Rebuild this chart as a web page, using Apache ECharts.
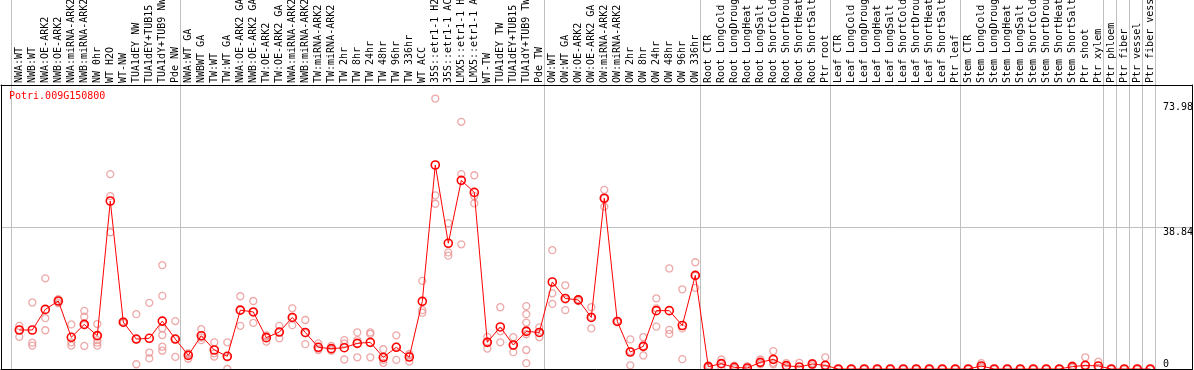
<!DOCTYPE html>
<html>
<head>
<meta charset="utf-8">
<script src="https://cdn.jsdelivr.net/npm/echarts@6/dist/echarts.min.js"></script>
<style>
html,body{margin:0;padding:0;background:#fff;}
#chart{width:1194px;height:370px;}
</style>
</head>
<body>
<div id="chart"></div>
<script>
const geneName = 'Potri.009G150800';

const categories = [
  'NWA:WT','NWB:WT','NWA:OE-ARK2','NWB:OE-ARK2','NWA:miRNA-ARK2','NWB:miRNA-ARK2','NW 0hr','WT H2O','WT-NW','TUA1dEY NW','TUA1dEY+TUB15 NW','TUA1dY+TUB9 NW','Pde NW',
  'NWA:WT GA','NWBWT GA','TW:WT','TW:WT GA','NWA:OE-ARK2 GA','NWB:OE-ARK2 GA','TW:OE-ARK2','TW:OE-ARK2 GA','NWA:miRNA-ARK2 GA','NWB:miRNA-ARK2 GA','TW:miRNA-ARK2','TW:miRNA-ARK2 GA',
  'TW 2hr','TW 8hr','TW 24hr','TW 48hr','TW 96hr','TW 336hr','WT ACC','35S::etr1-1 H2O','35S::etr1-1 ACC','LMX5::etr1-1 H2O','LMX5::etr1-1 ACC','WT-TW','TUA1dEY TW','TUA1dEY+TUB15 TW','TUA1dY+TUB9 TW','Pde TW',
  'OW:WT','OW:WT GA','OW:OE-ARK2','OW:OE-ARK2 GA','OW:miRNA-ARK2','OW:miRNA-ARK2 GA','OW 2hr','OW 8hr','OW 24hr','OW 48hr','OW 96hr','OW 336hr',
  'Root CTR','Root LongCold','Root LongDrought','Root LongHeat','Root LongSalt','Root ShortCold','Root ShortDrought','Root ShortHeat','Root ShortSalt','Ptr root',
  'Leaf CTR','Leaf LongCold','Leaf LongDrought','Leaf LongHeat','Leaf LongSalt','Leaf ShortCold','Leaf ShortDrought','Leaf ShortHeat','Leaf ShortSalt','Ptr leaf',
  'Stem CTR','Stem LongCold','Stem LongDrought','Stem LongHeat','Stem LongSalt','Stem ShortCold','Stem ShortDrought','Stem ShortHeat','Stem ShortSalt','Ptr shoot','Ptr xylem',
  'Ptr phloem','Ptr fiber','Ptr vessel','Ptr fiber vessel'
];

// index of the first category of each group (group separators)
const groupStarts = [0, 13, 41, 53, 63, 73, 84, 85, 86, 87];

const meanValues = [
  10.67,10.67,16.3,18.6,8.67,12.2,9.12,45.95,12.8,8.2,8.4,13.1,8.2,
  3.74,9.1,5.2,3.47,16.1,15.6,8.57,10.1,14.1,10.0,5.93,5.56,5.83,7.02,7.29,3.19,5.93,3.28,18.5,55.8,34.4,51.6,48.3,7.29,11.5,6.56,10.3,10.0,
  23.8,19.3,18.9,14.1,46.7,13.0,4.65,6.2,15.96,15.96,11.9,25.6,
  0.64,1.46,0.46,0.27,1.82,2.64,0.91,0.55,1.37,1.0,
  0,0,0,0,0,0,0,0,0,0,
  0,0.82,0,0,0,0,0,0,0.64,1.0,0.82,
  0,0,0,0
];

const replicateValues = [
  [11.8,10.7,8.8],[18.2,7.2,6.4],[24.8,13.9,10.6],[19.1,18.0,18.6],[12.2,7.3,6.4],[15.9,14.3,12.0,6.3],[12.3,9.1,7.9,7.2,6.4],
  [53.3,47.3,37.4],[13.0,12.6,12.8],[15.0,8.2,1.3],[18.1,4.5,2.9],[28.4,20.0,11.1,9.3,6.1,5.0],[13.1,8.2,3.3],
  [4.3,4.1,2.8],[10.9,8.6,7.9],[7.3,4.3,3.4],[7.3,3.2,0],[19.9,16.1,11.8],[18.6,15.6,12.6],[9.2,9.0,7.5],[11.8,10.1,8.4],
  [16.6,14.1,12.0],[13.4,9.8,6.8],[7.0,5.6,5.2],[6.3,5.4,5.0],[7.9,7.0,2.6],[10.0,7.9,3.2],[10.0,9.6,3.2],[5.4,2.5,1.7],
  [9.2,6.1,2.5],[4.1,3.7,2.0],[24.1,16.1,15.4],[73.98,47.5,45.2],[39.9,31.9,31.0],[67.6,53.3,34.1],[53.0,47.3,45.3],
  [8.8,7.5,5.6],[16.9,10.3,7.3],[8.7,6.4,4.6],[17.2,15.0,12.7,10.7,9.5,5.2,1.6],[11.4,10.0,8.7],
  [32.5,20.7,17.8],[22.9,19.0,16.1],[19.1,18.6,19.0],[16.9,14.3,11.1],[49.0,46.7,44.4],[13.1,12.9,13.0],[8.1,4.9,1.0],
  [8.7,6.2,3.7],[19.3,16.6,11.6],[27.5,10.7,9.6],[21.8,11.1,2.7],[29.2,25.5,22.2],
  [1.0,0.5,0.4],[2.6,1.4,0.4],[0.9,0.3,0.2],[0.8,0,0],[2.6,1.7,1.3],[4.9,1.7,1.3],[1.6,0.7,0.4],[1.7,0,0],[1.7,1.4,1.0],[3.2,0,0],
  [0,0,0],[0,0,0],[0,0,0],[0,0,0],[0,0,0],[0,0,0],[0,0,0],[0,0,0],[0,0,0],[0,0,0],
  [0,0,0],[1.6,0.5,0.4],[0,0,0],[0,0,0],[0,0,0],[0,0,0],[0,0,0],[0,0,0],[1.0,0.6,0.3],[3.2,0,0],[2.0,0.3,0.2],
  [0,0,0],[0,0,0],[0,0,0],[0,0,0]
];

// right-hand value labels: zero, grid line, data maximum
const yTickLabels = [0, 38.84, 73.98];
const yMax = 77.68;
const yGridStep = 38.84;

const FONT = 'DejaVu Sans Mono';

const replicatePoints = [];
replicateValues.forEach((reps, i) => reps.forEach(v => replicatePoints.push([i, v])));

const chart = echarts.init(document.getElementById('chart'), null, {renderer: 'canvas'});

const hiddenAxisBits = {axisLine:{show:false}, axisTick:{show:false}, axisLabel:{show:false}, splitLine:{show:false}};

function labelAxis(value, vAlign, padTop, withLine) {
  return {
    type: 'value', gridIndex: 1, min: 0, max: yMax, position: 'right', z: 5,
    axisLine: {show: !!withLine, onZero: false, lineStyle: {color: '#000', width: 1}},
    axisTick: {show: false}, splitLine: {show: false},
    axisLabel: {
      show: true, inside: true, margin: 29.5, customValues: [value],
      verticalAlign: vAlign, align: 'left', padding: [padTop, 0, 0, 0],
      color: '#000', fontSize: 10, fontFamily: FONT,
      formatter: (v) => String(v)
    }
  };
}

chart.setOption({
  animation: false,
  backgroundColor: '#fff',
  title: {
    text: geneName, left: 9, top: 91, padding: 0,
    textStyle: {color: '#ff0000', fontSize: 10, fontWeight: 'normal', fontFamily: FONT}
  },
  grid: [
    {left: 12.8, right: 37.2, top: 85, bottom: 1, containLabel: false, outerBoundsMode: 'none'},   // data
    {left: 1, right: 1.5, top: 85, bottom: 1, containLabel: false, outerBoundsMode: 'none'},       // frame
    {left: 11.2, right: 38.8, top: 0, bottom: 1, containLabel: false, outerBoundsMode: 'none'}     // separators
  ],
  xAxis: [
    {
      type: 'category', gridIndex: 0, data: categories, position: 'top', boundaryGap: true,
      axisLine: {show: false}, axisTick: {show: false}, splitLine: {show: false},
      axisLabel: {
        interval: 0, rotate: 90, margin: 2, color: '#000', fontSize: 10, fontFamily: FONT,
        width: 89, overflow: 'truncate', ellipsis: ''
      }
    },
    Object.assign({type: 'value', gridIndex: 1, min: 0, max: 1, position: 'bottom', z: 5}, hiddenAxisBits,
      {axisLine: {show: true, onZero: false, lineStyle: {color: '#000', width: 1}}}),
    Object.assign({type: 'value', gridIndex: 1, min: 0, max: 1, position: 'top', z: 5}, hiddenAxisBits,
      {axisLine: {show: true, onZero: false, lineStyle: {color: '#000', width: 1}}}),
    {
      type: 'category', gridIndex: 2, data: categories, position: 'bottom', boundaryGap: true,
      axisLine: {show: false}, axisTick: {show: false}, axisLabel: {show: false},
      splitLine: {
        show: true,
        interval: (index) => groupStarts.indexOf(index) >= 0,
        lineStyle: {color: '#c0c0c0', width: 1}
      }
    }
  ],
  yAxis: [
    Object.assign({type: 'value', gridIndex: 0, min: 0, max: yMax, show: false}, hiddenAxisBits),
    {
      type: 'value', gridIndex: 1, min: 0, max: yMax, interval: yGridStep, position: 'left', z: 1,
      axisLine: {show: true, onZero: false, lineStyle: {color: '#000', width: 1}},
      axisTick: {show: false}, axisLabel: {show: false},
      splitLine: {show: true, lineStyle: {color: '#c0c0c0', width: 1}}
    },
    labelAxis(yTickLabels[2], 'top', 4, true),
    labelAxis(yTickLabels[1], 'top', 0, false),
    labelAxis(yTickLabels[0], 'bottom', 0, false),
    Object.assign({type: 'value', gridIndex: 2, min: 0, max: 1, show: false}, hiddenAxisBits)
  ],
  series: [
    {
      name: 'replicates', type: 'scatter', xAxisIndex: 0, yAxisIndex: 0,
      data: replicatePoints, symbol: 'circle', symbolSize: 7, z: 2,
      itemStyle: {color: 'rgba(0,0,0,0)', borderColor: '#e99494', borderWidth: 1.3}
    },
    {
      name: 'mean', type: 'line', xAxisIndex: 0, yAxisIndex: 0,
      data: meanValues, symbol: 'circle', symbolSize: 8, showAllSymbol: true, z: 3,
      lineStyle: {color: '#ff0000', width: 1},
      itemStyle: {color: 'rgba(0,0,0,0)', borderColor: '#ff0000', borderWidth: 1.6}
    }
  ]
});
</script>
</body>
</html>
